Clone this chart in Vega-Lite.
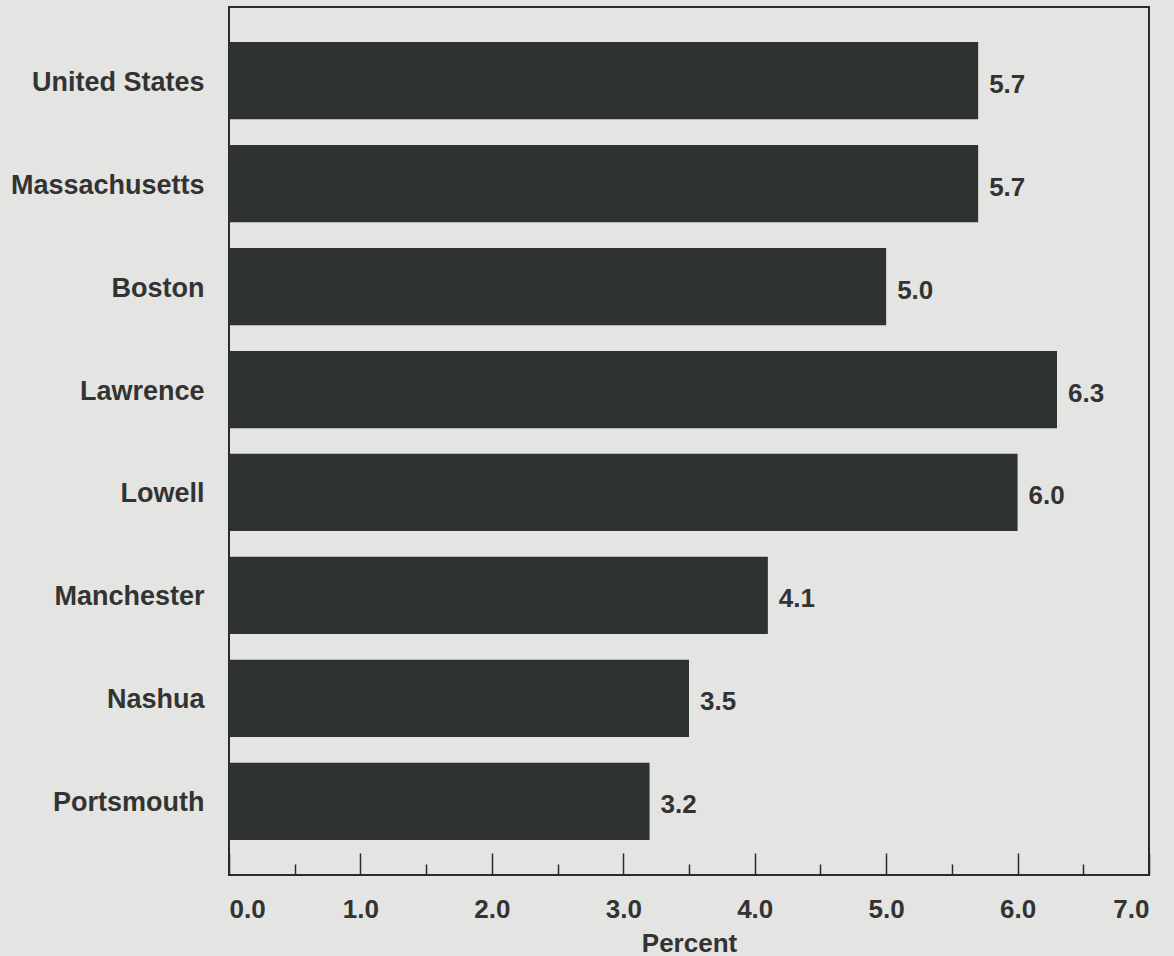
{
  "$schema": "https://vega.github.io/schema/vega-lite/v6.json",
  "autosize": {"type": "none"},
  "padding": {"left": 229, "top": 7, "right": 25, "bottom": 81},
  "width": 920,
  "height": 868,
  "background": "#e4e4e2",
  "config": {
    "view": {"stroke": "#2a2a2a", "strokeWidth": 2},
    "font": "Liberation Sans",
    "axis": {"labelFont": "Liberation Sans", "titleFont": "Liberation Sans", "labelFontWeight": "bold", "titleFontWeight": "bold", "labelColor": "#333333", "titleColor": "#333333", "labelFontSize": 26, "titleFontSize": 26, "grid": false, "domain": false}
  },
  "data": {"values": [
    {"city": "United States", "value": 5.7},
    {"city": "Massachusetts", "value": 5.7},
    {"city": "Boston", "value": 5.0},
    {"city": "Lawrence", "value": 6.3},
    {"city": "Lowell", "value": 6.0},
    {"city": "Manchester", "value": 4.1},
    {"city": "Nashua", "value": 3.5},
    {"city": "Portsmouth", "value": 3.2}
  ]},
  "resolve": {"axis": {"x": "independent"}},
  "layer": [
    {
      "mark": {"type": "bar", "color": "#2f3330"},
      "encoding": {
        "y": {"field": "city", "type": "nominal", "sort": null, "scale": {"paddingInner": 0.25, "paddingOuter": 0.34},
              "axis": {"title": null, "ticks": false, "labelPadding": 25, "labelOffset": 2, "labelFontSize": 27, "labelLimit": 400}},
        "x": {"field": "value", "type": "quantitative", "scale": {"domain": [0, 7], "nice": false},
              "axis": {"orient": "bottom", "values": [0, 1, 2, 3, 4, 5, 6, 7], "format": ".1f", "tickSize": -22, "tickColor": "#2a2a2a", "tickWidth": 1.5, "labelPadding": 43, "labelBaseline": "top", "title": "Percent", "titleBaseline": "alphabetic", "titleY": 76}}
      }
    },
    {
      "mark": {"type": "text", "align": "left", "baseline": "middle", "dx": 11, "dy": 4, "font": "Liberation Sans", "fontWeight": "bold", "fontSize": 26, "color": "#333333"},
      "encoding": {
        "y": {"field": "city", "type": "nominal", "sort": null},
        "x": {"field": "value", "type": "quantitative",
              "axis": {"orient": "bottom", "values": [0.5, 1.5, 2.5, 3.5, 4.5, 5.5, 6.5], "labels": false, "tickSize": -11, "tickColor": "#2a2a2a", "tickWidth": 1.5, "title": null}},
        "text": {"field": "value", "type": "quantitative", "format": ".1f"}
      }
    }
  ]
}
